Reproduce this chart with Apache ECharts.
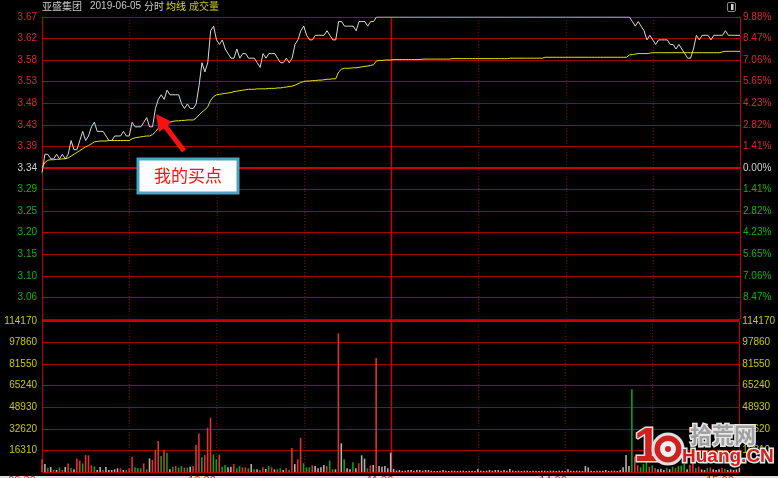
<!DOCTYPE html>
<html><head><meta charset="utf-8">
<script src="https://cdn.jsdelivr.net/npm/echarts@6/dist/echarts.min.js"></script>
<style>html,body{margin:0;padding:0;background:#000;overflow:hidden}#c{width:778px;height:478px}</style>
</head><body><div id="c"></div>
<script>
const prevClose = 3.34;
const limitUp = 3.67;
const limitDown = 3.01;
const price = [
3.33,3.37,3.37,3.36,3.36,3.37,3.36,3.37,3.36,3.37,
3.40,3.38,3.38,3.40,3.42,3.40,3.41,3.43,3.44,3.42,
3.42,3.42,3.41,3.40,3.40,3.41,3.41,3.41,3.42,3.41,
3.41,3.44,3.43,3.43,3.43,3.44,3.45,3.43,3.43,3.47,
3.49,3.50,3.49,3.51,3.50,3.50,3.50,3.50,3.48,3.47,
3.48,3.47,3.47,3.48,3.52,3.57,3.55,3.57,3.64,3.65,
3.62,3.61,3.62,3.60,3.59,3.58,3.58,3.60,3.58,3.59,
3.59,3.58,3.58,3.58,3.57,3.56,3.59,3.58,3.59,3.59,
3.59,3.58,3.57,3.57,3.58,3.57,3.58,3.61,3.62,3.64,
3.65,3.63,3.62,3.62,3.63,3.63,3.63,3.63,3.64,3.63,
3.62,3.62,3.66,3.66,3.65,3.65,3.65,3.65,3.64,3.66,
3.66,3.66,3.65,3.66,3.66,3.67,3.67,3.67,3.67,3.67,
3.67,3.67,3.67,3.67,3.67,3.67,3.67,3.67,3.67,3.67,
3.67,3.67,3.67,3.67,3.67,3.67,3.67,3.67,3.67,3.67,
3.67,3.67,3.67,3.67,3.67,3.67,3.67,3.67,3.67,3.67,
3.67,3.67,3.67,3.67,3.67,3.67,3.67,3.67,3.67,3.67,
3.67,3.67,3.67,3.67,3.67,3.67,3.67,3.67,3.67,3.67,
3.67,3.67,3.67,3.67,3.67,3.67,3.67,3.67,3.67,3.67,
3.67,3.67,3.67,3.67,3.67,3.67,3.67,3.67,3.67,3.67,
3.67,3.67,3.67,3.67,3.67,3.67,3.67,3.67,3.67,3.67,
3.67,3.67,3.67,3.66,3.65,3.66,3.65,3.64,3.62,3.63,
3.62,3.61,3.62,3.62,3.62,3.62,3.61,3.61,3.60,3.61,
3.60,3.59,3.58,3.58,3.60,3.63,3.62,3.63,3.63,3.63,
3.62,3.63,3.63,3.63,3.63,3.64,3.63,3.63,3.63,3.63,
3.63];
const avgPrice = [
3.340,3.352,3.357,3.358,3.358,3.359,3.359,3.360,3.360,3.362,
3.366,3.370,3.374,3.378,3.382,3.386,3.389,3.393,3.397,3.398,
3.399,3.399,3.399,3.400,3.400,3.400,3.400,3.400,3.400,3.400,
3.400,3.404,3.406,3.407,3.408,3.409,3.410,3.410,3.413,3.419,
3.427,3.433,3.438,3.440,3.441,3.442,3.443,3.443,3.444,3.444,
3.445,3.445,3.445,3.449,3.456,3.462,3.467,3.474,3.488,3.496,
3.500,3.501,3.502,3.503,3.504,3.505,3.507,3.508,3.509,3.510,
3.511,3.512,3.512,3.512,3.513,3.513,3.513,3.513,3.514,3.514,
3.514,3.515,3.515,3.516,3.517,3.518,3.519,3.521,3.524,3.527,
3.529,3.530,3.530,3.531,3.531,3.532,3.532,3.533,3.534,3.534,
3.535,3.535,3.550,3.556,3.558,3.558,3.558,3.559,3.559,3.560,
3.561,3.562,3.563,3.564,3.566,3.574,3.575,3.575,3.576,3.576,
3.576,3.577,3.577,3.577,3.577,3.577,3.577,3.577,3.577,3.577,
3.577,3.578,3.578,3.578,3.578,3.578,3.578,3.578,3.578,3.578,
3.578,3.579,3.579,3.579,3.579,3.579,3.579,3.579,3.579,3.579,
3.579,3.579,3.579,3.579,3.579,3.579,3.579,3.579,3.579,3.579,
3.579,3.580,3.580,3.580,3.580,3.580,3.580,3.580,3.580,3.580,
3.580,3.580,3.580,3.582,3.582,3.582,3.582,3.582,3.582,3.582,
3.582,3.582,3.582,3.582,3.582,3.582,3.582,3.582,3.582,3.582,
3.582,3.582,3.582,3.582,3.582,3.582,3.582,3.582,3.582,3.582,
3.582,3.582,3.587,3.588,3.589,3.590,3.590,3.590,3.590,3.591,
3.592,3.592,3.592,3.592,3.592,3.592,3.592,3.592,3.592,3.592,
3.592,3.592,3.592,3.592,3.592,3.592,3.592,3.592,3.592,3.592,
3.592,3.592,3.592,3.592,3.594,3.595,3.595,3.595,3.595,3.595,
3.595];
const volume = [
9600,6000,3300,3800,1500,1500,3500,1500,3800,6500,
3000,2000,10000,8600,6500,12800,12600,5000,4300,1500,
3800,1500,3800,1500,1500,2000,2800,2800,1500,1500,
2800,11600,3500,2800,2800,6500,2000,10300,9100,16600,
23400,12100,16600,14600,2000,4000,4500,3300,4500,3300,
3300,4000,4500,20400,29200,11100,12800,33500,41000,13300,
9600,13100,4000,5300,3500,4000,6000,2800,4500,3500,
3500,2800,6000,2000,2000,1500,3500,2300,4500,3500,
2000,2000,2800,1500,2800,1500,18100,6000,9600,25700,
6600,3500,3500,5000,4500,2800,3500,5300,4500,8600,
2000,2000,104800,21700,9600,2800,2000,7300,2800,6600,
12600,10100,2800,5000,5300,86200,4500,4000,4500,2800,
14600,2300,1000,1500,1000,1000,1500,1500,1000,1500,
1500,1000,1500,1500,1000,800,800,1000,1500,1000,
800,1000,1000,800,1000,1000,800,1000,1000,800,
2300,1000,800,1000,1500,1000,1500,1500,1000,1500,
1000,2300,1000,800,1000,800,1000,1000,800,1000,
1000,800,1000,1000,800,1000,1000,800,1000,1000,
800,2000,1000,800,1000,1000,800,4500,3500,1000,
800,1000,1000,1000,1500,800,1000,1000,800,1500,
3500,12900,4500,62500,11600,5000,3500,6000,8000,4000,
5000,3000,2000,2500,1500,3000,2000,4000,3000,4500,
5000,6000,2000,5500,7000,3000,4000,2000,1500,3000,
3500,2000,1500,2000,3000,2500,1500,2000,1500,2000,
3000];
// 1 = up tick (red), -1 = down tick (green), 0 = unchanged (grey)
const volDir = [
1,0,-1,0,1,0,-1,1,0,1,
-1,0,1,1,-1,1,1,1,-1,0,
0,-1,0,0,0,0,0,1,0,-1,
1,1,-1,-1,-1,1,-1,0,1,1,
1,-1,1,-1,0,-1,1,-1,-1,1,
-1,0,1,1,1,-1,1,1,1,-1,
-1,1,-1,-1,0,0,1,-1,-1,1,
1,-1,0,-1,0,-1,1,0,-1,1,
0,-1,-1,0,1,-1,1,0,1,1,
-1,-1,-1,1,0,0,0,0,1,-1,
-1,0,1,0,-1,0,0,-1,0,1,
0,0,-1,1,0,1,0,0,0,0,
0,0,0,0,0,0,0,0,0,0,
0,0,0,0,0,0,0,0,0,0,
0,0,0,0,0,0,0,0,0,0,
0,0,0,0,0,0,0,0,0,0,
0,0,0,0,0,0,0,0,0,0,
0,0,0,0,0,0,0,0,0,0,
0,0,0,0,0,0,0,0,0,0,
0,0,0,0,0,0,0,0,0,0,
0,0,0,-1,1,1,-1,-1,-1,1,
-1,1,0,0,0,-1,0,-1,1,-1,
-1,-1,0,1,1,-1,1,0,0,-1,
1,0,0,0,1,-1,0,0,0,0,
0];
const priceLabels = ['','3.06','3.10','3.15','3.20','3.25','3.29','3.34','3.39','3.43','3.48','3.53','3.58','3.62','3.67'];
const pctLabels = ['','8.47%','7.06%','5.65%','4.23%','2.82%','1.41%','0.00%','1.41%','2.82%','4.23%','5.65%','7.06%','8.47%','9.88%'];
const volMax = 114170;
const volStep = 16310;
const timeLabels = ['09:30','10:30','11:30','14:00','15:00'];
const guideIdx = [30, 60, 90, 120, 150, 180, 210];   // half-hour guides; 120 = midday break
const middayIdx = 120;

// minute categories 09:30 .. 11:30, 13:01 .. 15:00
const times = [];
for (let i = 0; i < price.length; i++) {
  const m = i <= 120 ? 570 + i : 780 + (i - 120);
  times.push(String(Math.floor(m / 60)).padStart(2, '0') + ':' + String(m % 60).padStart(2, '0'));
}

const RED = '#d42a2a', GREEN = '#10b010', GRID = '#a80000', YEL = '#c8c800';
const dirColor = { '1': '#e03030', '-1': '#10a010', '0': '#b0b0b0' };
const FONT = 'Liberation Sans, Arial, sans-serif';
const CJK = 'Noto Sans CJK SC, sans-serif';

const chart = echarts.init(document.getElementById('c'), null, { renderer: 'canvas' });
const xBase = (g, showLine) => ({
  type: 'category', gridIndex: g, data: times, boundaryGap: false,
  axisTick: { show: false }, axisLabel: { show: false },
  axisLine: { show: showLine, lineStyle: { color: '#c00000', width: 1 } },
  splitLine: { show: false }
});
const stepAxis = (pos, labels, showSplit) => ({
  type: 'value', gridIndex: 0, position: pos, min: -7, max: 7, interval: 1,
  axisLine: { show: true, lineStyle: { color: '#c00000', width: 1 } },
  axisTick: { show: false },
  splitLine: { show: showSplit, lineStyle: { color: GRID, width: 1 } },
  axisLabel: {
    fontSize: 10, fontFamily: FONT, margin: pos === 'left' ? 5 : 3,
    formatter: (v) => labels[Math.round(v) + 7],
    color: (v) => (v > 0 ? RED : v < 0 ? GREEN : '#d0d0d0')
  }
});
const volAxis = (pos, showSplit) => ({
  type: 'value', gridIndex: 1, position: pos, min: 0, max: volMax, interval: volStep,
  axisLine: { show: true, lineStyle: { color: '#c00000', width: 1 } },
  axisTick: { show: false },
  splitLine: { show: showSplit, lineStyle: { color: GRID, width: 1 } },
  axisLabel: { fontSize: 10, fontFamily: FONT, color: YEL, margin: pos === 'left' ? 5 : 3,
    formatter: (v) => (v === 0 ? '' : String(v)) }
});
// vertical time guides drawn through the category axis
const guideSeries = (xi, yi) => ({
  type: 'custom', xAxisIndex: xi, yAxisIndex: yi, silent: true, z: 1,
  data: guideIdx.map((i) => [i, 0]),
  encode: { x: 0, y: 1 },
  renderItem: (params, api) => {
    const idx = api.value(0);
    const x = Math.round(api.coord([idx, 0])[0]) + 0.5;
    const cs = params.coordSys;
    const solid = idx === middayIdx;
    return { type: 'line', silent: true,
      shape: { x1: x, y1: cs.y, x2: x, y2: cs.y + cs.height },
      style: { stroke: solid ? '#d00000' : '#8c0000', lineWidth: solid ? 1.5 : 1, lineDash: solid ? null : [1, 2] } };
  }
});

const option = {
  backgroundColor: '#000',
  animation: false,
  grid: [
    { left: 42, right: 38, top: 17, height: 302 },
    { left: 42, right: 38, top: 321, height: 151 }
  ],
  xAxis: [xBase(0, false), xBase(1, true)],
  yAxis: [
    stepAxis('left', priceLabels, true),
    stepAxis('right', pctLabels, false),
    { type: 'value', gridIndex: 0, min: limitDown, max: limitUp, show: false },
    volAxis('left', true),
    volAxis('right', false)
  ],
  series: [
    guideSeries(0, 0),
    guideSeries(1, 3),
    {
      type: 'line', xAxisIndex: 0, yAxisIndex: 2, data: price, symbol: 'none',
      lineStyle: { color: '#d8d8d8', width: 1 }, z: 5,
      markLine: {
        silent: true, symbol: 'none', label: { show: false }, animation: false,
        lineStyle: { color: '#c80000', type: 'solid', width: 2 },
        data: [{ yAxis: prevClose }]
      }
    },
    {
      type: 'line', xAxisIndex: 0, yAxisIndex: 2, data: avgPrice, symbol: 'none',
      lineStyle: { color: '#e6e600', width: 1 }, z: 4
    },
    {
      type: 'bar', xAxisIndex: 1, yAxisIndex: 3, barWidth: 1.6, z: 3,
      data: volume.map((v, i) => ({ value: v, itemStyle: { color: dirColor[String(volDir[i])] } })),
      markLine: {
        silent: true, symbol: 'none', label: { show: false }, animation: false,
        lineStyle: { color: '#c80000', type: 'solid', width: 2 },
        data: [{ yAxis: volMax }]
      }
    }
  ],
  graphic: [
    { type: 'text', left: 42, top: 1, style: { text: '亚盛集团', fill: '#c8c8c8', font: '10px ' + CJK } },
    { type: 'text', left: 90, top: 1, style: { text: '2019-06-05', fill: '#c8c8c8', font: '10px ' + FONT } },
    { type: 'text', left: 144, top: 1, style: { text: '分时', fill: '#c8c8c8', font: '10px ' + CJK } },
    { type: 'text', left: 166, top: 1, style: { text: '均线', fill: '#e0e000', font: '10px ' + CJK } },
    { type: 'text', left: 189, top: 1, style: { text: '成交量', fill: YEL, font: '10px ' + CJK } },
    { type: 'rect', shape: { x: 727.5, y: 2.5, width: 8, height: 9, r: 1.5 }, style: { fill: 'none', stroke: '#8a8a8a', lineWidth: 1 } },
    { type: 'rect', shape: { x: 731, y: 4, width: 2.5, height: 6 }, style: { fill: '#d8d8d8' } },
    // annotation arrow
    { type: 'line', z: 50, shape: { x1: 184, y1: 151, x2: 165, y2: 126 }, style: { stroke: '#ff1010', lineWidth: 5 } },
    { type: 'polygon', z: 50, shape: { points: [[156, 114], [172, 122], [159, 132]] }, style: { fill: '#ff1010' } },
    // annotation box
    { type: 'rect', z: 50, shape: { x: 138, y: 159, width: 100, height: 34 }, style: { fill: '#ffffff', stroke: '#4aa3c3', lineWidth: 3 } },
    { type: 'text', z: 51, x: 188, y: 176, style: { text: '我的买点', fill: '#ff1010', font: '17px ' + CJK, textAlign: 'center', textVerticalAlign: 'middle' } },
    // bottom time strip (cut off)
    { type: 'rect', shape: { x: 0, y: 476, width: 778, height: 2 }, style: { fill: '#e0e0e0' } },
    { type: 'text', x: 22, y: 475.5, style: { text: timeLabels[0], fill: RED, font: '11px ' + FONT, textAlign: 'center' } },
    { type: 'text', x: 202, y: 475.5, style: { text: timeLabels[1], fill: RED, font: '11px ' + FONT, textAlign: 'center' } },
    { type: 'text', x: 380, y: 475.5, style: { text: timeLabels[2], fill: RED, font: '11px ' + FONT, textAlign: 'center' } },
    { type: 'text', x: 553, y: 475.5, style: { text: timeLabels[3], fill: RED, font: '11px ' + FONT, textAlign: 'center' } },
    { type: 'text', x: 720, y: 475.5, style: { text: timeLabels[4], fill: RED, font: '11px ' + FONT, textAlign: 'center' } },
    // watermark
    { type: 'text', x: 634, y: 424, z: 100, style: { text: '1', fill: '#d02020', stroke: '#e0e0e0', lineWidth: 3, font: 'bold 48px ' + FONT } },
    { type: 'circle', z: 100, shape: { cx: 668, cy: 449, r: 15 }, style: { fill: '#d02020', stroke: '#e0e0e0', lineWidth: 3 } },
    { type: 'circle', z: 101, shape: { cx: 668, cy: 449, r: 8 }, style: { fill: '#f0f0f0' } },
    { type: 'circle', z: 102, shape: { cx: 668, cy: 449, r: 3 }, style: { fill: '#d02020' } },
    { type: 'text', x: 690, y: 424, z: 100, style: { text: '拾荒网', fill: '#a0a0a0', stroke: '#e8e8e8', lineWidth: 3, font: 'bold 22px ' + CJK } },
    { type: 'text', x: 682, y: 447, z: 100, style: { text: 'Huang.CN', fill: '#d02020', stroke: '#e8e8e8', lineWidth: 3, font: 'bold 19px ' + FONT } }
  ]
};
chart.setOption(option);
</script>
</body></html>
